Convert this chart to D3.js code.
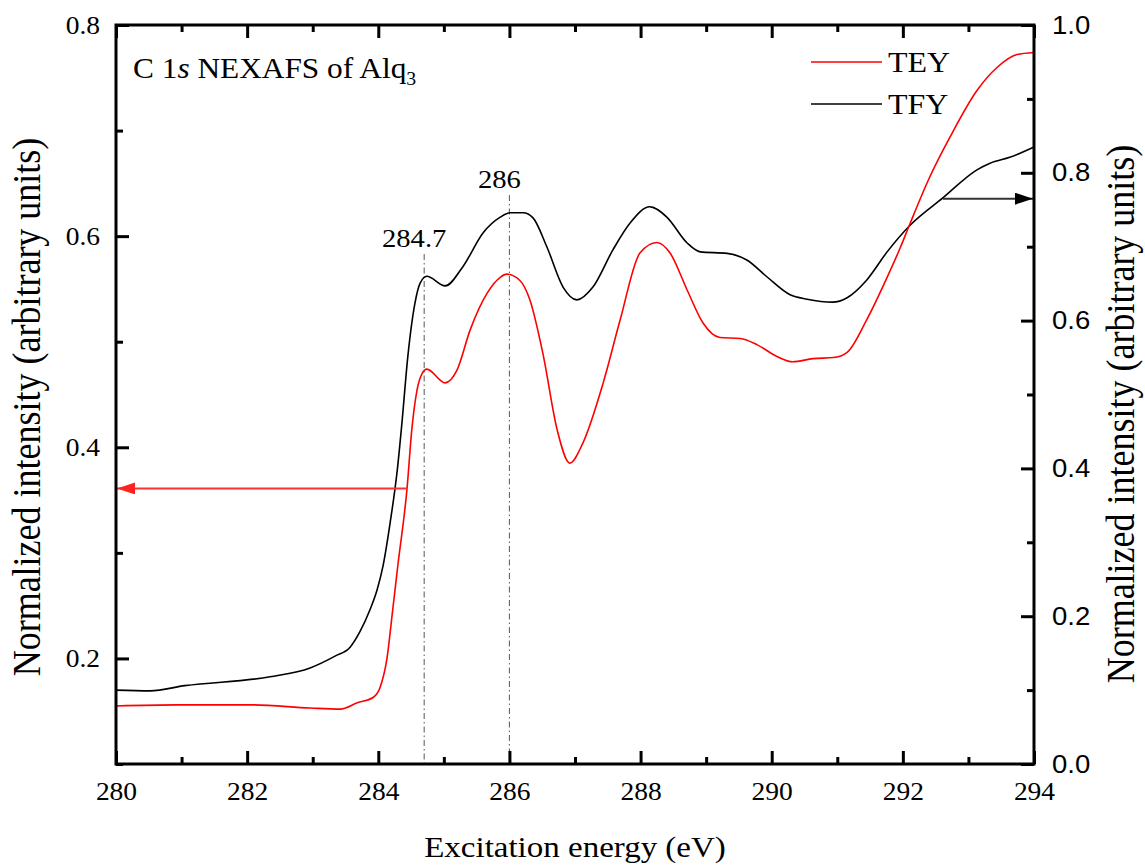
<!DOCTYPE html>
<html>
<head>
<meta charset="utf-8">
<script src="https://cdn.jsdelivr.net/npm/d3@7"></script>
<style>
  html, body { margin: 0; padding: 0; background: #fff; }
  svg { display: block; }
  text { font-family: "Liberation Serif", "Times New Roman", serif; fill: #000; }
</style>
</head>
<body>
<svg id="chart" width="1145" height="865"></svg>
<script>
// C 1s NEXAFS spectra of Alq3: total electron yield (left axis) and total fluorescence yield (right axis)
const teyEnergy = [280.0, 280.93, 282.09, 282.96, 283.42, 283.68, 283.92, 284.03, 284.13, 284.22, 284.30, 284.44, 284.51, 284.59, 284.67, 284.74, 285.02, 285.20, 285.40, 285.66, 285.86, 285.96, 286.16, 286.31, 286.51, 286.73, 286.92, 287.12, 287.43, 287.69, 287.99, 288.25, 288.45, 288.71, 288.95, 289.21, 289.52, 289.78, 290.08, 290.32, 290.63, 290.94, 291.15, 291.45, 291.76, 291.96, 292.11, 292.41, 292.72, 293.13, 293.44, 293.74, 294.0];
const teyIntensity = [0.155, 0.156, 0.156, 0.153, 0.152, 0.158, 0.163, 0.173, 0.199, 0.246, 0.289, 0.362, 0.416, 0.454, 0.470, 0.474, 0.461, 0.473, 0.511, 0.546, 0.561, 0.564, 0.558, 0.540, 0.489, 0.416, 0.385, 0.404, 0.461, 0.521, 0.584, 0.594, 0.584, 0.549, 0.518, 0.504, 0.503, 0.497, 0.486, 0.481, 0.484, 0.485, 0.490, 0.521, 0.561, 0.589, 0.612, 0.656, 0.694, 0.738, 0.760, 0.772, 0.774];

const tfyEnergy = [280.0, 280.52, 281.05, 282.35, 282.96, 283.34, 283.57, 283.72, 283.87, 283.98, 284.07, 284.18, 284.29, 284.36, 284.45, 284.56, 284.64, 284.74, 285.02, 285.29, 285.60, 285.86, 286.01, 286.21, 286.36, 286.57, 286.82, 287.03, 287.27, 287.58, 287.84, 288.14, 288.40, 288.71, 288.91, 289.32, 289.62, 289.93, 290.28, 290.54, 290.93, 291.15, 291.45, 291.76, 292.11, 292.61, 293.13, 293.33, 293.63, 294.0];
const tfyIntensity = [0.100, 0.099, 0.106, 0.118, 0.130, 0.146, 0.158, 0.179, 0.208, 0.235, 0.267, 0.326, 0.398, 0.461, 0.551, 0.624, 0.651, 0.660, 0.647, 0.673, 0.719, 0.740, 0.746, 0.746, 0.739, 0.700, 0.645, 0.628, 0.645, 0.696, 0.732, 0.754, 0.740, 0.705, 0.693, 0.691, 0.682, 0.659, 0.635, 0.629, 0.625, 0.631, 0.655, 0.693, 0.729, 0.766, 0.804, 0.813, 0.821, 0.835];

const xMajorTicks = [280, 282, 284, 286, 288, 290, 292, 294];
const xMinorTicks = [281, 283, 285, 287, 289, 291, 293];
const yLeftMajorTicks = [0.2, 0.4, 0.6, 0.8];
const yLeftMinorTicks = [0.1, 0.3, 0.5, 0.7];
const yRightMajorTicks = [0.0, 0.2, 0.4, 0.6, 0.8, 1.0];
const yRightMinorTicks = [0.1, 0.3, 0.5, 0.7, 0.9];

// peak markers and the arrows tying each curve to its axis
const peakEnergies = [284.7, 286];
const peakLabels = ["284.7", "286"];
const peakLineTopTFY = [0.690, 0.770];
const arrowTEY = { start: 284.44, value: 0.361 };
const arrowTFY = { start: 292.61, value: 0.765 };

const legendNames = ["TEY", "TFY"];
const legendColors = ["#ff0000", "#000000"];

const plot = { left: 116, right: 1034, top: 25, bottom: 764 };
const S = 1.1; // horizontal glyph stretch

const svg = d3.select("#chart");

const x = d3.scaleLinear().domain([280, 294]).range([plot.left, plot.right]);
const yL = d3.scaleLinear().domain([0.1, 0.8]).range([plot.bottom, plot.top]);
const yR = d3.scaleLinear().domain([0.0, 1.0]).range([plot.bottom, plot.top]);

// arrowheads
const defs = svg.append("defs");
function marker(id, color) {
  defs.append("marker")
    .attr("id", id)
    .attr("viewBox", "0 0 18 12")
    .attr("refX", 18).attr("refY", 6)
    .attr("markerWidth", 18).attr("markerHeight", 12)
    .attr("markerUnits", "userSpaceOnUse")
    .attr("orient", "auto")
    .append("path").attr("d", "M0,0 L18,6 L0,12 Z").attr("fill", color);
}
marker("arrRed", "#ff2020");
marker("arrBlack", "#000");

// vertical dash-dot guides at the resonance energies
const guides = svg.append("g");
peakEnergies.forEach((e, i) => {
  guides.append("line")
    .attr("x1", x(e)).attr("x2", x(e))
    .attr("y1", yR(peakLineTopTFY[i])).attr("y2", plot.bottom)
    .attr("stroke", "#666").attr("stroke-width", 1.1)
    .attr("stroke-dasharray", "6,3,1.5,3");
  guides.append("text")
    .attr("transform", `translate(${x(e) - 10},${yR(peakLineTopTFY[i]) - 7}) scale(${S},1)`)
    .attr("text-anchor", "middle")
    .attr("font-size", 26)
    .text(peakLabels[i]);
});

// curves
const lineTEY = d3.line().x((d, i) => x(teyEnergy[i])).y(d => yL(d)).curve(d3.curveMonotoneX);
const lineTFY = d3.line().x((d, i) => x(tfyEnergy[i])).y(d => yR(d)).curve(d3.curveMonotoneX);

svg.append("path").datum(tfyIntensity)
  .attr("d", lineTFY).attr("fill", "none").attr("stroke", "#000").attr("stroke-width", 1.6);
svg.append("path").datum(teyIntensity)
  .attr("d", lineTEY).attr("fill", "none").attr("stroke", "#ff0000").attr("stroke-width", 1.6);

// arrows
svg.append("line")
  .attr("x1", x(arrowTEY.start)).attr("x2", plot.left + 1)
  .attr("y1", yL(arrowTEY.value)).attr("y2", yL(arrowTEY.value))
  .attr("stroke", "#ff3030").attr("stroke-width", 2)
  .attr("marker-end", "url(#arrRed)");
svg.append("line")
  .attr("x1", x(arrowTFY.start)).attr("x2", plot.right - 1)
  .attr("y1", yR(arrowTFY.value)).attr("y2", yR(arrowTFY.value))
  .attr("stroke", "#333").attr("stroke-width", 2)
  .attr("marker-end", "url(#arrBlack)");

// axes (ticks pointing inward)
const majorLen = 13, minorLen = 7;
function styleAxis(g) {
  g.select(".domain").remove();
  g.selectAll(".tick line").attr("stroke", "#000").attr("stroke-width", 3);
  g.selectAll("text").attr("fill", "#000");
}

const gxB = svg.append("g").attr("transform", `translate(0,${plot.bottom})`)
  .call(d3.axisBottom(x).tickValues(xMajorTicks).tickSize(-majorLen).tickPadding(18).tickFormat(d3.format("d")))
  .call(styleAxis);
gxB.selectAll("text").attr("font-size", 25)
  .attr("transform", `scale(${S},1)`);
svg.append("g").attr("transform", `translate(0,${plot.bottom})`)
  .call(d3.axisBottom(x).tickValues(xMinorTicks).tickSize(-minorLen).tickFormat(""))
  .call(styleAxis);

svg.append("g").attr("transform", `translate(0,${plot.top})`)
  .call(d3.axisTop(x).tickValues(xMajorTicks).tickSize(-majorLen).tickFormat(""))
  .call(styleAxis);
svg.append("g").attr("transform", `translate(0,${plot.top})`)
  .call(d3.axisTop(x).tickValues(xMinorTicks).tickSize(-minorLen).tickFormat(""))
  .call(styleAxis);

const gyL = svg.append("g").attr("transform", `translate(${plot.left},0)`)
  .call(d3.axisLeft(yL).tickValues(yLeftMajorTicks).tickSize(-majorLen).tickFormat(d3.format(".1f")))
  .call(styleAxis);
gyL.selectAll("text").attr("font-size", 25)
  .attr("x", -16 / S).attr("transform", `scale(${S},1)`);
svg.append("g").attr("transform", `translate(${plot.left},0)`)
  .call(d3.axisLeft(yL).tickValues(yLeftMinorTicks).tickSize(-minorLen).tickFormat(""))
  .call(styleAxis);

const gyR = svg.append("g").attr("transform", `translate(${plot.right},0)`)
  .call(d3.axisRight(yR).tickValues(yRightMajorTicks).tickSize(-majorLen).tickFormat(d3.format(".1f")))
  .call(styleAxis);
gyR.selectAll("text").attr("font-size", 25)
  .style("font-family", "'Liberation Sans', Arial, sans-serif")
  .attr("x", 18 / S).attr("transform", `scale(${S},1)`);
svg.append("g").attr("transform", `translate(${plot.right},0)`)
  .call(d3.axisRight(yR).tickValues(yRightMinorTicks).tickSize(-minorLen).tickFormat(""))
  .call(styleAxis);

// frame
svg.append("rect")
  .attr("x", plot.left).attr("y", plot.top)
  .attr("width", plot.right - plot.left).attr("height", plot.bottom - plot.top)
  .attr("fill", "none").attr("stroke", "#000").attr("stroke-width", 3);

// axis titles
svg.append("text")
  .attr("transform", `translate(${(plot.left + plot.right) / 2},857) scale(${S},1)`)
  .attr("text-anchor", "middle").attr("font-size", 30)
  .text("Excitation energy (eV)");
svg.append("text")
  .attr("transform", `translate(40,407) rotate(-90) scale(1,${S})`)
  .attr("text-anchor", "middle").attr("font-size", 36)
  .text("Normalized intensity (arbitrary units)");
svg.append("text")
  .attr("transform", `translate(1134,414) rotate(-90) scale(1,${S})`)
  .attr("text-anchor", "middle").attr("font-size", 36)
  .text("Normalized intensity (arbitrary units)");

// panel title
const title = svg.append("text")
  .attr("transform", `translate(133,78) scale(${S},1)`)
  .attr("font-size", 28.5);
title.append("tspan").text("C 1");
title.append("tspan").attr("font-style", "italic").text("s");
title.append("tspan").text(" NEXAFS of Alq");
title.append("tspan").attr("font-size", 18).attr("dy", 7).text("3");

// legend
const legend = svg.append("g");
legendNames.forEach((name, i) => {
  const ly = 62 + i * 42;
  legend.append("line")
    .attr("x1", 811).attr("x2", 882).attr("y1", ly).attr("y2", ly)
    .attr("stroke", legendColors[i]).attr("stroke-width", 1.6);
  legend.append("text")
    .attr("transform", `translate(888,${ly + 10}) scale(${S},1)`)
    .attr("font-size", 29)
    .text(name);
});
</script>
</body>
</html>
